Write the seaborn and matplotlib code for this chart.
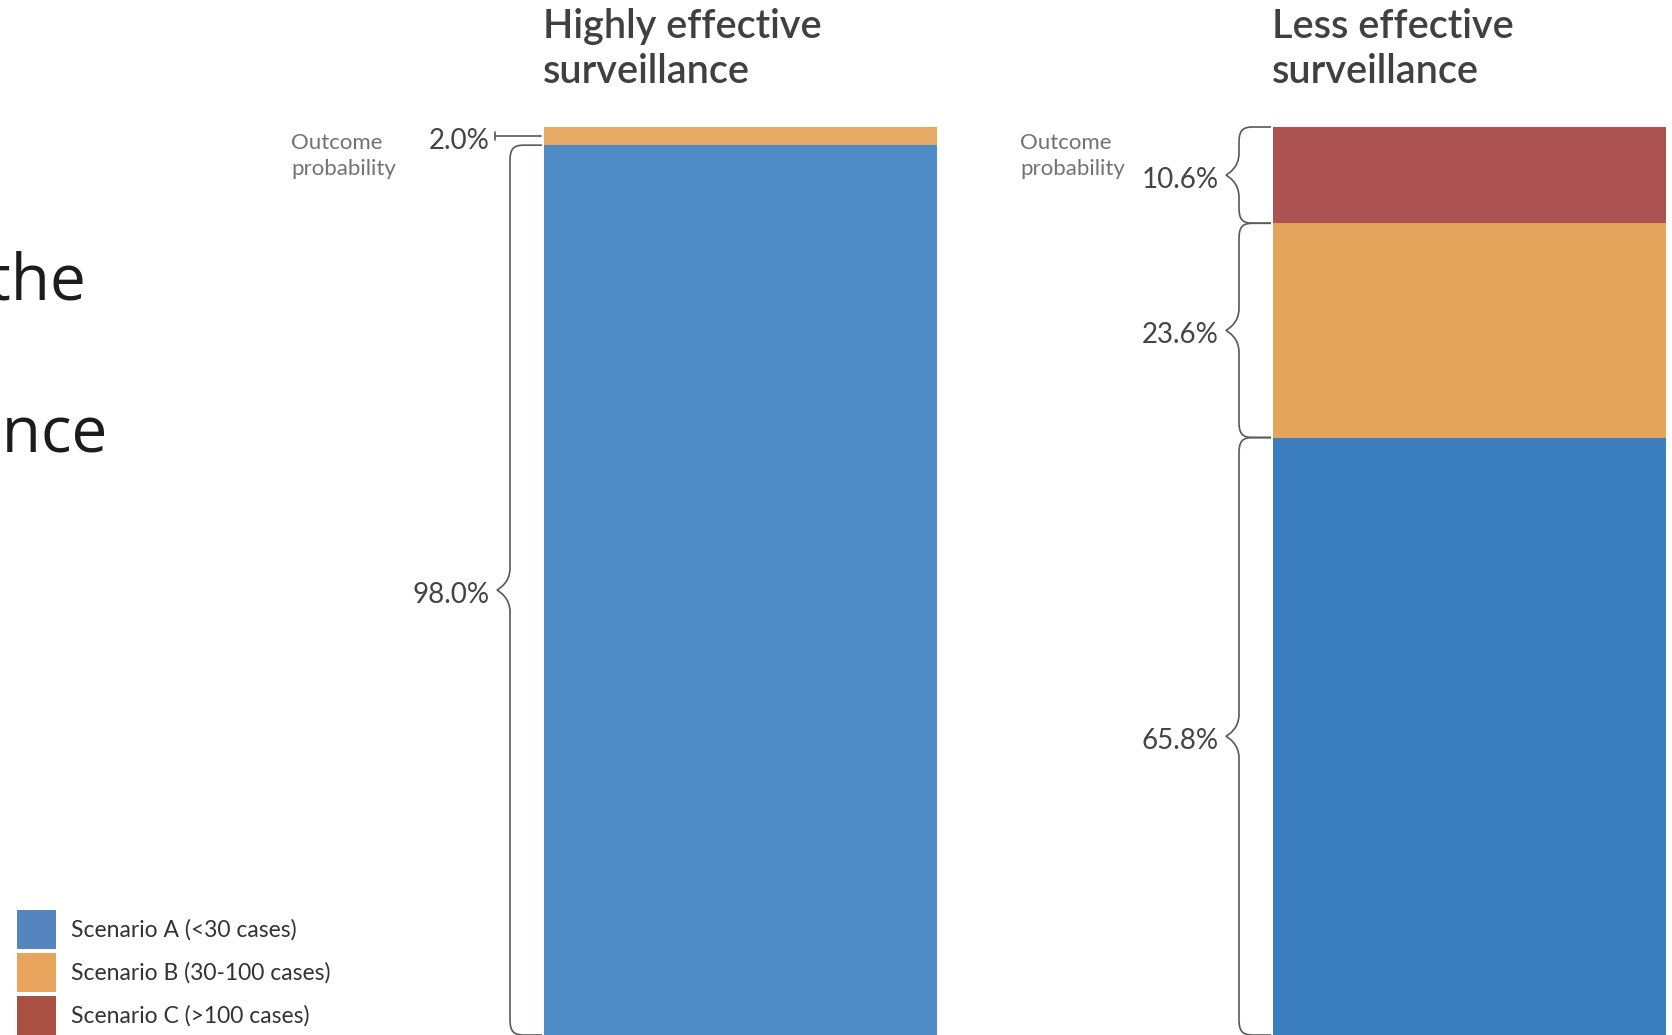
import numpy as np
import pandas as pd
import matplotlib.pyplot as plt
import seaborn as sns
from matplotlib.path import Path
from matplotlib.patches import PathPatch, Patch

# data (percent of simulated outbreaks)
levels = ["Highly effective surveillance", "Less effective surveillance"]
title_lines = [["Highly effective", "surveillance"], ["Less effective", "surveillance"]]
scenario_a = [98.0, 65.8]
scenario_b = [2.0, 23.6]
scenario_c = [0.0, 10.6]
scenario_names = ["Scenario A (<30 cases)", "Scenario B (30-100 cases)", "Scenario C (>100 cases)"]

bar_colors_a = ["#4f8bc5", "#3a7ebd"]
bar_colors_b = ["#e6aa64", "#e3a45b"]
bar_colors_c = ["#ad5252", "#ad5252"]
legend_colors = ["#5585bf", "#e8a45c", "#a85042"]

W, H = 1672, 1035
PX_X = 729.0          # pixels per category step
PX_Y = 9.08           # pixels per percent
BAR_W = 393 / PX_X

sns.set_theme(style="white")
plt.rcParams['font.family'] = ['Lato', 'DejaVu Sans']

df = pd.DataFrame({
    "level": levels,
    "a": scenario_a,
    "ab": np.add(scenario_a, scenario_b),
    "abc": np.add(np.add(scenario_a, scenario_b), scenario_c),
})

fig = plt.figure(figsize=(W / 100, H / 100), dpi=100)
ax = fig.add_axes([0, 0, 1, 1])

# stacked bars: draw cumulative totals, largest first
for col, pal in [("abc", bar_colors_c), ("ab", bar_colors_b), ("a", bar_colors_a)]:
    sns.barplot(data=df, x="level", y=col, hue="level", palette=pal, width=BAR_W,
                dodge=False, legend=False, linewidth=0, errorbar=None,
                saturation=1, ax=ax)

x0 = -740.5 / PX_X
ax.set_xlim(x0, x0 + W / PX_X)
ax.set_ylim(0, 100 + 127 / PX_Y)
ax.set_axis_off()

line_col = "#595959"


def draw_brace(ax, x_edge, y_lo, y_hi):
    h = (y_hi - y_lo) * PX_Y
    ymid = (y_lo + y_hi) / 2
    half = h / 2
    xe, xs, xt = -2, -34, -47
    r = 16
    t = min(22, half - r)
    pts = [
        (xe, half), (xs + 14, half),
        (xs + 3, half), (xs, half - 4), (xs, half - r),
        (xs, t),
        (xs, t * 0.35), (xt + 3, 2), (xt, 0),
        (xt + 3, -2), (xs, -t * 0.35), (xs, -t),
        (xs, -(half - r)),
        (xs, -half + 4), (xs + 3, -half), (xs + 14, -half),
        (xe, -half),
    ]
    codes = [Path.MOVETO, Path.LINETO,
             Path.CURVE4, Path.CURVE4, Path.CURVE4,
             Path.LINETO,
             Path.CURVE4, Path.CURVE4, Path.CURVE4,
             Path.CURVE4, Path.CURVE4, Path.CURVE4,
             Path.LINETO,
             Path.CURVE4, Path.CURVE4, Path.CURVE4,
             Path.LINETO]
    verts = [(x_edge + px / PX_X, ymid + py / PX_Y) for px, py in pts]
    ax.add_patch(PathPatch(Path(verts, codes), fill=False, ec=line_col, lw=1.2))


def draw_tick_line(ax, x_edge, ymid):
    ax.plot([x_edge - 3 / PX_X, x_edge - 49 / PX_X], [ymid, ymid], color=line_col, lw=1.2)
    ax.plot([x_edge - 49 / PX_X] * 2, [ymid - 4 / PX_Y, ymid + 4 / PX_Y], color=line_col, lw=1.2)


for i in range(len(levels)):
    edge = i - BAR_W / 2
    tops = [scenario_a[i], scenario_a[i] + scenario_b[i],
            scenario_a[i] + scenario_b[i] + scenario_c[i]]
    bottoms = [0, tops[0], tops[1]]
    for lo, hi in zip(bottoms, tops):
        if hi - lo <= 0:
            continue
        mid = (lo + hi) / 2
        if (hi - lo) * PX_Y < 40:
            draw_tick_line(ax, edge, mid)
        else:
            draw_brace(ax, edge, lo, hi)
        ax.text(edge - 54 / PX_X, mid - 12.5 / PX_Y, f"{hi - lo:.1f}%", ha="right",
                va="baseline", fontsize=20, color="#444444")

    # column titles
    for k, line in enumerate(title_lines[i]):
        ax.text(edge - 1 / PX_X, 100 + (127 - 38 - 45 * k) / PX_Y, line, ha="left",
                va="baseline", fontsize=28.5, fontweight="semibold", color="#404040")

    # axis-like note
    for k, line in enumerate(["Outcome", "probability"]):
        ax.text(edge - 253 / PX_X, 100 + (127 - 149 - 26 * k) / PX_Y, line, ha="left",
                va="baseline", fontsize=16, fontweight="normal", color="#727272")

# title text clipped at the left border
fig.text(86 / W, 1 - 300 / H, "the", ha="right", va="baseline", fontsize=46,
         family=["Open Sans", "DejaVu Sans"], color="#1c1c1c")
fig.text(108 / W, 1 - 452 / H, "surveillance", ha="right", va="baseline", fontsize=46,
         family=["Open Sans", "DejaVu Sans"], color="#1c1c1c")

handles = [Patch(facecolor=c, edgecolor="none") for c in legend_colors]
fig.legend(handles, scenario_names, loc="upper left", bbox_to_anchor=(17 / W, 1 - 910 / H),
           frameon=False, fontsize=16.5, handlelength=1.70, handleheight=2.243,
           handletextpad=0.65, labelspacing=0.175, borderpad=0, borderaxespad=0,
           labelcolor="#333333")

plt.savefig("out.png", dpi=100)
plt.close()
